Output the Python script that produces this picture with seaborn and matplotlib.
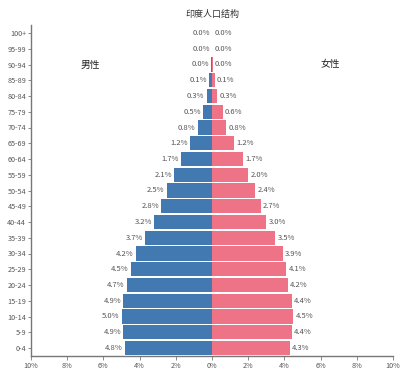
import numpy as np
import pandas as pd
import seaborn as sns
import matplotlib.pyplot as plt

# Age groups, top to bottom
ages = ["100+", "95-99", "90-94", "85-89", "80-84", "75-79", "70-74", "65-69",
        "60-64", "55-59", "50-54", "45-49", "40-44", "35-39", "30-34", "25-29",
        "20-24", "15-19", "10-14", "5-9", "0-4"]

# Share of population (%)
male = [0.0, 0.01, 0.04, 0.14, 0.3, 0.5, 0.8, 1.2, 1.7, 2.1, 2.5, 2.8, 3.2, 3.7,
        4.2, 4.5, 4.7, 4.9, 5.0, 4.9, 4.8]
female = [0.0, 0.01, 0.04, 0.14, 0.3, 0.6, 0.8, 1.2, 1.7, 2.0, 2.4, 2.7, 3.0, 3.5,
          3.9, 4.1, 4.2, 4.4, 4.5, 4.4, 4.3]

xticks = [-10, -8, -6, -4, -2, 0, 2, 4, 6, 8, 10]

sns.set_style("white")
plt.rcParams["font.family"] = ["Noto Sans CJK SC", "DejaVu Sans"]

df = pd.DataFrame({"age": ages, "male": [-v for v in male], "female": female})

fig = plt.figure(figsize=(4, 3.75), dpi=100)
ax = fig.add_axes([0.0775, 0.051, 0.905, 0.882])

sns.barplot(data=df, x="male", y="age", color="#4279b0", orient="h",
            width=0.9, saturation=1, linewidth=0, ax=ax)
sns.barplot(data=df, x="female", y="age", color="#ee7386", orient="h",
            width=0.9, saturation=1, linewidth=0, ax=ax)

# value labels
for i, (m, f) in enumerate(zip(male, female)):
    ax.text(-m - 0.12, i, f"{m:.1f}%", ha="right", va="center",
            fontsize=5.5, color="#555555")
    ax.text(f + 0.12, i, f"{f:.1f}%", ha="left", va="center",
            fontsize=5.5, color="#555555")

ax.set_xlim(-10, 10)
ax.set_xticks(xticks)
ax.set_xticklabels([f"{abs(t)}%" for t in xticks], fontsize=5.2, color="#555555")
ax.tick_params(axis="y", labelsize=5.2, labelcolor="#555555", length=2,
               width=0.6, color="#777777", pad=1.5, left=True)
ax.tick_params(axis="x", length=3, width=0.6, color="#777777", pad=1.5,
               bottom=True)
ax.set_xlabel("")
ax.set_ylabel("")

for side in ["top", "right"]:
    ax.spines[side].set_visible(False)
for side in ["left", "bottom"]:
    ax.spines[side].set_color("#777777")
    ax.spines[side].set_linewidth(1.0)

fig.text(0.53, 0.962, "印度人口结构", ha="center", va="center", fontsize=6.5,
         color="#333333")
ax.text(-6.7, 2, "男性", ha="center", va="center", fontsize=7, color="#222222")
ax.text(6.55, 2, "女性", ha="center", va="center", fontsize=7, color="#222222")

fig.savefig("out.png", dpi=100)
